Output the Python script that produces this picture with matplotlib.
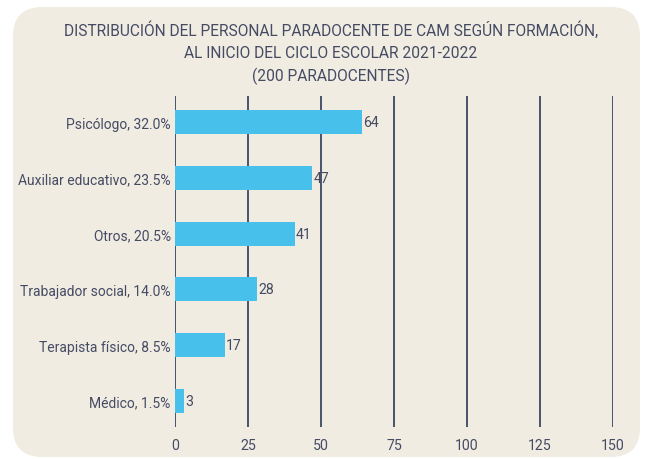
import matplotlib.pyplot as plt
from matplotlib.patches import FancyBboxPatch

categories = ["Psicólogo, 32.0%", "Auxiliar educativo, 23.5%", "Otros, 20.5%",
              "Trabajador social, 14.0%", "Terapista físico, 8.5%", "Médico, 1.5%"]
counts = [64, 47, 41, 28, 17, 3]
xticks = [0, 25, 50, 75, 100, 125, 150]
title_lines = ["DISTRIBUCIÓN DEL PERSONAL PARADOCENTE DE CAM SEGÚN FORMACIÓN,",
               "AL INICIO DEL CICLO ESCOLAR 2021-2022",
               "(200 PARADOCENTES)"]

plt.rcParams["font.family"] = ["Roboto", "DejaVu Sans"]
text_color = "#454b63"
grid_color = "#2c3857"

fig = plt.figure(figsize=(6.48, 4.6), dpi=100)
fig.patch.set_facecolor("white")
# rounded beige card behind everything
bg = FancyBboxPatch((13 / 648, 2 / 460), 627 / 648, 450 / 460,
                    boxstyle="round,pad=0,rounding_size=0.045",
                    transform=fig.transFigure, facecolor="#f0ece2",
                    edgecolor="none", zorder=-10, mutation_aspect=648 / 460)
fig.patches.append(bg)

ax = fig.add_axes([175 / 648, 1 - 428 / 460, 438 / 648, 331 / 460])
ax.set_facecolor("none")

pos = list(range(len(categories)))
ax.barh(pos, counts, height=0.43, color="#47c0ec", zorder=3)
for p, v in zip(pos, counts):
    ax.text(v + 0.4, p, str(v), va="center", ha="left", fontsize=10.2,
            color=text_color, zorder=4)

ax.set_xlim(0, 150)
ax.set_ylim(len(categories) - 0.53, -0.47)
ax.set_xticks(xticks)
ax.set_yticks(pos)
ax.set_yticklabels(categories)
ax.tick_params(axis="both", length=0, colors=text_color, labelsize=10.2)
ax.tick_params(axis="x", pad=8)
ax.tick_params(axis="y", labelsize=10, pad=3)
for s in ax.spines.values():
    s.set_visible(False)
for x in xticks:
    ax.axvline(x, color=grid_color, lw=1.2, zorder=1)

for i, line in enumerate(title_lines):
    fig.text(331 / 648, 1 - (30 + 23 * i) / 460, line, ha="center", va="center",
             fontsize=11.2, color=text_color)

fig.savefig("out.png", dpi=100)
